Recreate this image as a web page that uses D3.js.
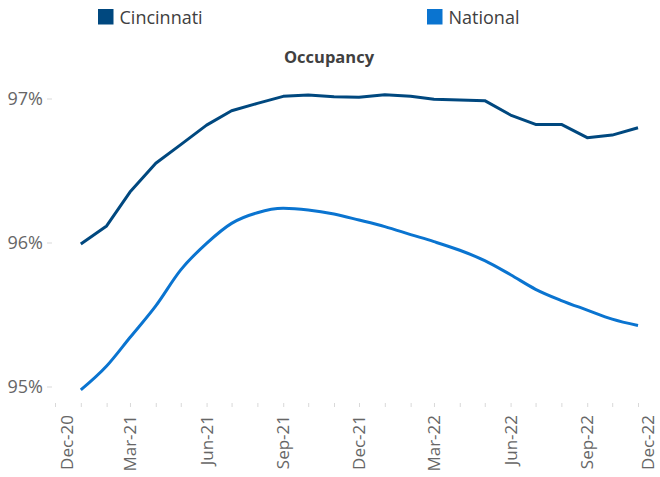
<!DOCTYPE html>
<html lang="en">
  <head>
    <meta charset="utf-8">
    <title>Occupancy</title>
    <script src="https://cdn.jsdelivr.net/npm/d3@7"></script>
    <style>
      body { margin: 0; background: #fff; }
      text { font-family: "Open Sans", sans-serif; }
    </style>
  </head>
  <body>
    <script>

      var w = 660;
      var h = 477;

      // monthly data, Jan-21 .. Nov-22
      var months = ["2021-01","2021-02","2021-03","2021-04","2021-05","2021-06",
                    "2021-07","2021-08","2021-09","2021-10","2021-11","2021-12",
                    "2022-01","2022-02","2022-03","2022-04","2022-05","2022-06",
                    "2022-07","2022-08","2022-09","2022-10","2022-11"];

      var cincinnati = [95.99, 96.115, 96.35, 96.55, 96.68, 96.815, 96.915, 96.966,
                        97.015, 97.024, 97.012, 97.008, 97.026, 97.016, 96.995, 96.99,
                        96.985, 96.885, 96.82, 96.82, 96.728, 96.746, 96.797];

      var national = [94.976, 95.142, 95.34, 95.56, 95.81, 95.994, 96.133, 96.207,
                      96.237, 96.226, 96.198, 96.156, 96.11, 96.055, 96.006, 95.946,
                      95.874, 95.776, 95.675, 95.597, 95.531, 95.468, 95.424];

      var tickLabels = ["Dec-20","Mar-21","Jun-21","Sep-21","Dec-21","Mar-22","Jun-22","Sep-22","Dec-22"];
      var yTicks = [95, 96, 97];

      var seriesNames = ["Cincinnati", "National"];
      var colors = ["#00487f", "#0a74d0"];

      var parseMonth = d3.timeParse("%Y-%m");
      var parseLabel = d3.timeParse("%b-%y");

      var xScale = d3.scaleTime()
                     .domain([parseMonth("2020-12"), parseMonth("2022-12")])
                     .range([55, 663]);

      var yScale = d3.scaleLinear()
                     .domain([95, 97])
                     .range([386.5, 98.5]);

      var svg = d3.select("body")
                  .append("svg")
                  .attr("width", w)
                  .attr("height", h);

      // legend
      var legend = svg.selectAll("g.legend")
                      .data(seriesNames)
                      .enter()
                      .append("g")
                      .attr("class", "legend")
                      .attr("transform", function(d, i) {
                        return "translate(" + (i === 0 ? 98 : 427) + ",9)";
                      });

      legend.append("rect")
            .attr("width", 15.5)
            .attr("height", 15.5)
            .attr("fill", function(d, i) { return colors[i]; });

      legend.append("text")
            .attr("x", 21.5)
            .attr("y", 15.3)
            .attr("font-size", "18px")
            .attr("fill", "#404040")
            .text(function(d) { return d; });

      // title
      svg.append("text")
         .attr("x", 329)
         .attr("y", 63)
         .attr("text-anchor", "middle")
         .attr("font-size", "16.5px")
         .attr("font-weight", "bold")
         .attr("fill", "#404040")
         .text("Occupancy");

      // y axis
      var yAxis = d3.axisLeft(yScale)
                    .tickValues(yTicks)
                    .tickSize(5)
                    .tickPadding(4)
                    .tickFormat(function(d) { return d + "%"; });

      var gy = svg.append("g")
                  .attr("transform", "translate(52,0)")
                  .call(yAxis);
      gy.select(".domain").remove();
      gy.selectAll(".tick line").attr("stroke", "#d9d9d9");
      gy.selectAll(".tick text")
        .attr("font-size", "18px")
        .attr("font-family", "'Open Sans', sans-serif")
        .attr("fill", "#666");

      // x axis: monthly minor ticks, quarterly labels
      var xAxis = d3.axisBottom(xScale)
                    .ticks(d3.timeMonth.every(1))
                    .tickSize(4)
                    .tickFormat("");

      var gx = svg.append("g")
                  .attr("transform", "translate(0,403)")
                  .call(xAxis);
      gx.select(".domain").remove();
      gx.selectAll(".tick line").attr("stroke", "#d9d9d9");

      // edge labels are pulled inside the chart, as in the original
      svg.selectAll("text.xlabel")
         .data(tickLabels)
         .enter()
         .append("text")
         .attr("class", "xlabel")
         .attr("transform", function(d) {
           var x = Math.max(67, Math.min(648, xScale(parseLabel(d))));
           return "translate(" + (x + 6) + ",415) rotate(-90)";
         })
         .attr("text-anchor", "end")
         .attr("font-size", "17px")
         .attr("fill", "#666")
         .text(function(d) { return d; });

      // lines
      var rows = months.map(function(m, i) {
        return { date: parseMonth(m), values: [cincinnati[i], national[i]] };
      });

      var curves = [d3.curveLinear, d3.curveMonotoneX];

      seriesNames.forEach(function(name, k) {
        var line = d3.line()
                     .x(function(d) { return xScale(d.date); })
                     .y(function(d) { return yScale(d.values[k]); })
                     .curve(curves[k]);
        svg.append("path")
           .datum(rows)
           .attr("fill", "none")
           .attr("stroke", colors[k])
           .attr("stroke-width", 3)
           .attr("stroke-linejoin", "round")
           .attr("d", line);
      });

    </script>
  </body>
</html>
